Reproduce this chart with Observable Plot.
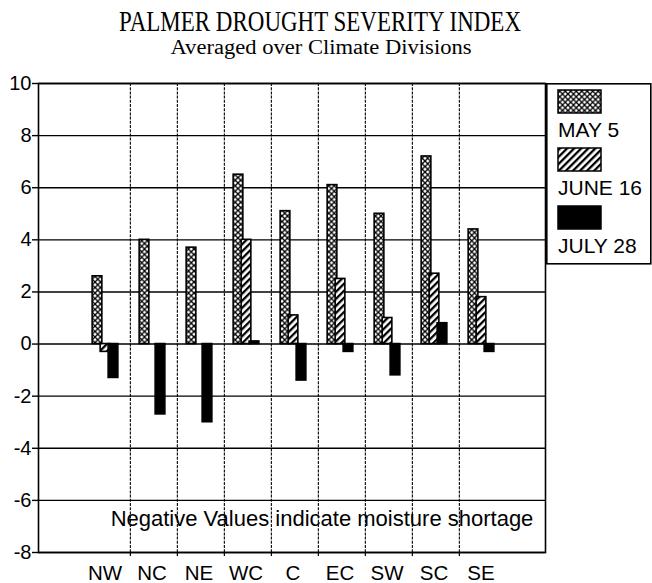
<!DOCTYPE html>
<html><head><meta charset="utf-8">
<script src="https://cdn.jsdelivr.net/npm/d3@7"></script>
<script src="https://cdn.jsdelivr.net/npm/@observablehq/plot@0.6"></script>
<style>
body{margin:0;background:#fff;}
#wrap{position:relative;width:652px;height:583px;overflow:hidden;background:#fff;}
</style></head><body>
<div id="wrap"></div>
<script>
// ---- data ----
const title = "PALMER DROUGHT SEVERITY INDEX";
const subtitle = "Averaged over Climate Divisions";
const note = "Negative Values indicate moisture shortage";
const divisions = ["NW","NC","NE","WC","C","EC","SW","SC","SE"];
const seriesNames = ["MAY 5","JUNE 16","JULY 28"];
const may5   = [2.6, 4.0, 3.7, 6.5, 5.1, 6.1, 5.0, 7.2, 4.4];
const june16 = [-0.3, 0, 0, 4.0, 1.1, 2.5, 1.0, 2.7, 1.8];
const july28 = [-1.3, -2.7, -3.0, 0.1, -1.4, -0.3, -1.2, 0.8, -0.3];
const yTicks = [-8, -6, -4, -2, 0, 2, 4, 6, 8, 10];
const yTickLabels = ["-8","-6","-4","-2","0","2","4","6","8","10"];

// ---- layout ----
const W = 652, headerH = 62, H = 583 - headerH;
const xRange = [81.7, 507.3];
const bw = (xRange[1] - xRange[0]) / divisions.length;
const barW = 10;
const inset = (bw - barW) / 2;
const sans = "'Liberation Sans', Arial, Helvetica, sans-serif";
const serif = "'Liberation Serif', 'Times New Roman', serif";

const wrap = d3.select("#wrap");

// pattern definitions
const defsSvg = wrap.append("svg").attr("width", 0).attr("height", 0)
  .style("position", "absolute").style("left", 0).style("top", 0);
const defs = defsSvg.append("defs");
const pm = defs.append("pattern").attr("id", "patMay").attr("patternUnits", "userSpaceOnUse")
  .attr("width", 5.5).attr("height", 5.5);
pm.append("rect").attr("width", 5.5).attr("height", 5.5).attr("fill", "white");
pm.append("path").attr("d", "M-1,-1L6.5,6.5M6.5,-1L-1,6.5").attr("stroke", "black").attr("stroke-width", 1.3);
const pj = defs.append("pattern").attr("id", "patJune").attr("patternUnits", "userSpaceOnUse")
  .attr("width", 5).attr("height", 5).attr("patternTransform", "rotate(45)");
pj.append("rect").attr("width", 5).attr("height", 5).attr("fill", "white");
pj.append("rect").attr("width", 2.3).attr("height", 5).attr("fill", "black");
const seriesFills = ["url(#patMay)", "url(#patJune)", "black"];

// header
const head = wrap.append("svg").attr("width", W).attr("height", headerH).style("display", "block");
head.append("text").attr("x", 320).attr("y", 31).attr("text-anchor", "middle")
  .attr("font-family", serif).attr("font-size", 30)
  .attr("textLength", 402).attr("lengthAdjust", "spacingAndGlyphs").text(title);
head.append("text").attr("x", 321).attr("y", 54).attr("text-anchor", "middle")
  .attr("font-family", serif).attr("font-size", 20)
  .attr("textLength", 301).attr("lengthAdjust", "spacingAndGlyphs").text(subtitle);

// chart
const rows = divisions.map((d, i) => ({division: d, may: may5[i], june: june16[i], july: july28[i]}));
const barOpts = (key, fill, dx) => ({
  x: "division", y: key, fill, stroke: "black", strokeWidth: 1.6,
  insetLeft: inset, insetRight: inset, dx
});

const chart = Plot.plot({
  width: W, height: H,
  marginTop: 21, marginBottom: 31, marginLeft: 38, marginRight: 107,
  style: {fontFamily: sans, color: "black", background: "white", overflow: "visible"},
  x: {type: "band", domain: divisions, range: xRange, padding: 0, label: null},
  y: {domain: [-8, 10], label: null},
  marks: [
    Plot.ruleY(yTicks, {stroke: "black", strokeWidth: 1.4}),
    Plot.ruleX(divisions.slice(1), {dx: -bw / 2, stroke: "black", strokeWidth: 1.1, strokeDasharray: "3,1.2"}),
    Plot.ruleX(divisions.slice(1), {dx: -bw / 2, y1: -8, y2: -8, insetBottom: -4, stroke: "black", strokeWidth: 1.2}),
    Plot.frame({stroke: "black", strokeWidth: 1.6}),
    Plot.barY(rows, barOpts("may", seriesFills[0], -9.5)),
    Plot.barY(rows, barOpts("june", seriesFills[1], -1.5)),
    Plot.barY(rows, barOpts("july", seriesFills[2], 6.5)),
    Plot.axisY({ticks: yTicks, tickFormat: d => yTickLabels[yTicks.indexOf(d)], tickSize: 6, tickPadding: 1, fontSize: 20, stroke: "black", strokeWidth: 1.4, label: null}),
    Plot.axisX({tickSize: 0, tickPadding: 13, fontSize: 20.5, dx: -2, label: null}),
    Plot.text([note], {frameAnchor: "bottom", dx: 30, dy: -27, fontSize: 22, fill: "black"})
  ]
});
wrap.node().appendChild(chart);

// legend
const leg = wrap.append("svg").style("position", "absolute").style("left", "546px").style("top", "83px")
  .attr("width", 106).attr("height", 182);
leg.append("rect").attr("x", 0.8).attr("y", 0.8).attr("width", 104).attr("height", 180)
  .attr("fill", "white").attr("stroke", "black").attr("stroke-width", 1.6);
seriesNames.forEach((name, i) => {
  const y0 = 7 + i * 58;
  leg.append("rect").attr("x", 12).attr("y", y0).attr("width", 43).attr("height", 23)
    .attr("fill", seriesFills[i]).attr("stroke", "black").attr("stroke-width", 1.5);
  leg.append("text").attr("x", 12).attr("y", y0 + 47).attr("font-family", sans)
    .attr("font-size", 21).attr("fill", "black").text(name);
});
</script>
</body></html>
